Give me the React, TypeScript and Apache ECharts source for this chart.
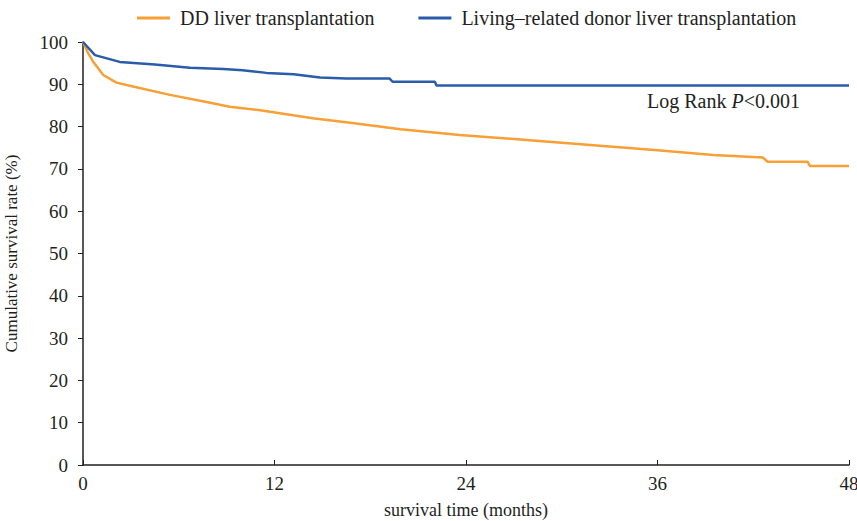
import React, { useEffect, useRef } from "react";
import * as echarts from "echarts";

const ddTime = [0, 0.33, 0.65, 1.27, 2.1, 3, 5.45, 7.5, 9.2, 11, 14.4, 17, 19.9, 23.6, 28, 32, 36, 39.5, 42.6, 42.9, 45.4, 45.55, 48];
const ddSurv = [100, 97.3, 95.3, 92.2, 90.4, 89.6, 87.5, 86, 84.7, 83.9, 82.0, 80.8, 79.4, 78.0, 76.8, 75.6, 74.4, 73.3, 72.7, 71.7, 71.7, 70.7, 70.7];

const ldTime = [0, 0.75, 2.3, 4.5, 6.7, 8.8, 10, 11.5, 13.2, 14.85, 16.5, 19.2, 19.4, 22.05, 22.15, 48];
const ldSurv = [100, 96.9, 95.3, 94.7, 93.9, 93.6, 93.3, 92.7, 92.4, 91.6, 91.4, 91.4, 90.6, 90.6, 89.7, 89.7];

const seriesNames = ["DD liver transplantation", "Living\u2013related donor liver transplantation"];
const xTicks = [0, 12, 24, 36, 48];
const yTicks = [0, 10, 20, 30, 40, 50, 60, 70, 80, 90, 100];

const FONT = "'Liberation Serif', 'DejaVu Serif', serif";

export default function App() {
  const ref = useRef<HTMLDivElement>(null);
  useEffect(() => {
    if (!ref.current) return;
    const chart = echarts.init(ref.current, undefined, { renderer: "svg" });
    const dd = ddTime.map((t, i) => [t, ddSurv[i]]);
    const ld = ldTime.map((t, i) => [t, ldSurv[i]]);
    chart.setOption({
      animation: false,
      backgroundColor: "#fff",
      textStyle: { fontFamily: FONT, color: "#231f20" },
      grid: { left: 83, right: 8, top: 42, bottom: 56, containLabel: false, outerBoundsMode: "none" },
      legend: {
        left: 132,
        top: 3,
        itemWidth: 33,
        itemHeight: 3,
        itemGap: 44,
        icon: "rect",
        textStyle: { fontFamily: FONT, fontSize: 20, color: "#231f20", padding: [0, 0, 0, 5] },
        data: seriesNames,
      },
      xAxis: {
        type: "value",
        min: 0,
        max: 48,
        interval: 12,
        name: "survival time (months)",
        nameLocation: "middle",
        nameGap: 36,
        nameTextStyle: { fontFamily: FONT, fontSize: 18, color: "#231f20" },
        axisLine: { lineStyle: { color: "#231f20", width: 1.5 } },
        axisTick: { inside: true, length: 5, lineStyle: { color: "#231f20" } },
        axisLabel: { fontFamily: FONT, fontSize: 19, color: "#231f20", margin: 9, formatter: (v: number) => (xTicks.includes(v) ? String(v) : "") },
        splitLine: { show: false },
      },
      yAxis: {
        type: "value",
        min: 0,
        max: 100,
        interval: 10,
        name: "Cumulative survival rate (%)",
        nameLocation: "middle",
        nameGap: 63,
        nameTextStyle: { fontFamily: FONT, fontSize: 17, color: "#231f20" },
        axisLine: { show: true, lineStyle: { color: "#231f20", width: 1.5 } },
        axisTick: { show: true, inside: false, length: 5, lineStyle: { color: "#231f20" } },
        axisLabel: { fontFamily: FONT, fontSize: 19, color: "#231f20", margin: 15, formatter: (v: number) => (yTicks.includes(v) ? String(v) : "") },
        splitLine: { show: false },
      },
      series: [
        {
          name: seriesNames[0],
          type: "line",
          data: dd,
          symbol: "none",
          lineStyle: { color: "#f7a035", width: 2.5 },
          itemStyle: { color: "#f7a035" },
          z: 2,
        },
        {
          name: seriesNames[1],
          type: "line",
          data: ld,
          symbol: "none",
          lineStyle: { color: "#2a5caa", width: 2.5 },
          itemStyle: { color: "#2a5caa" },
          z: 3,
        },
      ],
      graphic: [
        {
          type: "text",
          left: 647,
          top: 91,
          style: {
            rich: {
              n: { fontFamily: FONT, fontSize: 20, fill: "#231f20" },
              i: { fontFamily: FONT, fontSize: 20, fontStyle: "italic", fill: "#231f20" },
            },
            text: "{n|Log Rank }{i|P}{n|<0.001}",
          },
        },
      ],
    });
    return () => chart.dispose();
  }, []);
  return <div ref={ref} style={{ width: 857, height: 521, position: "absolute", left: 0, top: 0 }} />;
}
